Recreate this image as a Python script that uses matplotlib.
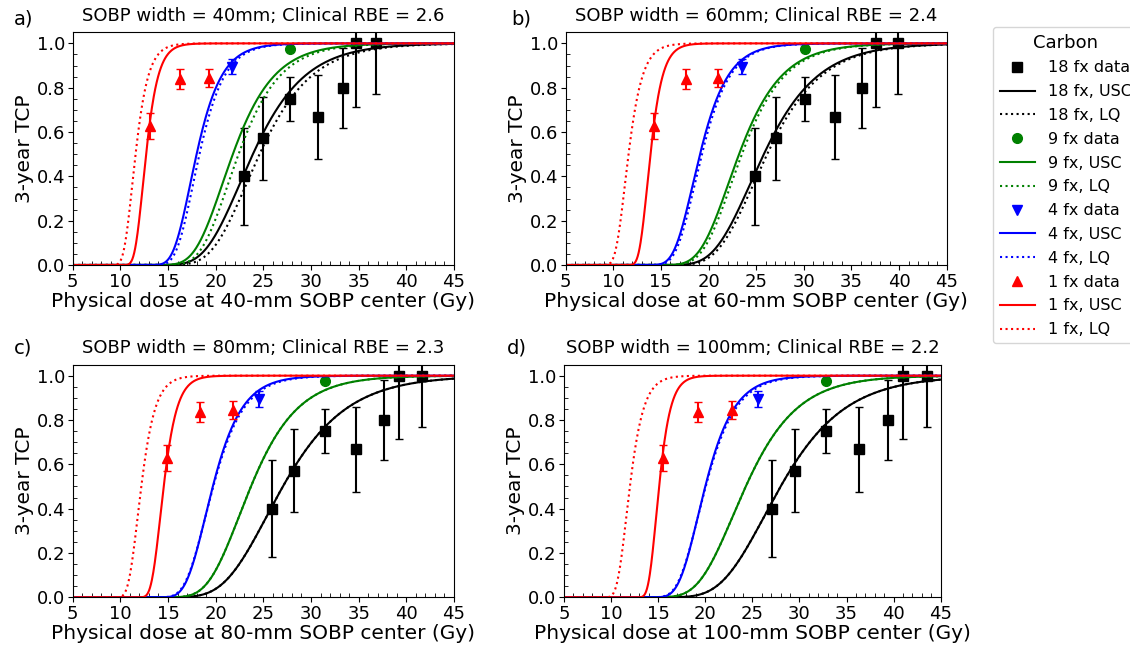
import numpy as np
import matplotlib
matplotlib.use("Agg")
import matplotlib.pyplot as plt
from matplotlib.ticker import MultipleLocator

# panels
widths = [40, 60, 80, 100]
rbe = [2.6, 2.4, 2.3, 2.2]
labels = ["a)", "b)", "c)", "d)"]

# clinical data (dose in Gy(RBE)) -> physical dose = dose / clinical RBE
fx18_dose = [59.6, 65.0, 72.3, 79.8, 86.7, 90.3, 95.8]
fx18_tcp = [0.40, 0.571, 0.75, 0.667, 0.80, 1.0, 1.0]
fx18_err = [0.22, 0.187, 0.10, 0.19, 0.18, 0.285, 0.23]
fx9_dose = [72.3]
fx9_tcp = [0.975]
fx9_err = [0.008]
fx4_dose = [56.4]
fx4_tcp = [0.895]
fx4_err = [0.035]
fx1_dose = [34.2, 42.2, 50.3]
fx1_tcp = [0.628, 0.838, 0.845]
fx1_err = [0.06, 0.045, 0.04]

# model curves: D50 (Gy) and slope k per panel, order 18, 9, 4, 1 fx
usc_d50 = [[23.9, 21.8, 18.0, 12.7],
           [25.8, 23.2, 19.1, 13.9],
           [27.05, 23.7, 19.7, 14.55],
           [28.0, 24.3, 20.0, 15.1]]
usc_k = [[0.27, 0.34, 0.56, 1.15],
         [0.26, 0.33, 0.50, 1.15],
         [0.22, 0.30, 0.48, 1.05],
         [0.215, 0.27, 0.48, 1.20]]
lq_d50 = [[24.6, 22.4, 18.3, 11.6],
          [26.15, 23.5, 19.3, 11.6],
          [27.05, 23.7, 19.75, 12.2],
          [28.0, 24.3, 20.05, 12.0]]
lq_k = [[0.27, 0.34, 0.56, 1.10],
        [0.26, 0.33, 0.50, 1.00],
        [0.22, 0.30, 0.46, 1.00],
        [0.215, 0.27, 0.46, 1.00]]

fx_names = ["18", "9", "4", "1"]
colors = ["black", "green", "blue", "red"]
markers = ["s", "o", "v", "^"]


def tcp(d, d50, k):
    return np.exp(-np.log(2) * np.exp(-k * (d - d50)))


fig = plt.figure(figsize=(11.3, 6.5), dpi=100)
positions = [[0.0643, 0.5923, 0.3375, 0.358],
             [0.5006, 0.5923, 0.3372, 0.358],
             [0.0643, 0.0811, 0.3375, 0.358],
             [0.4991, 0.0811, 0.3334, 0.358]]
lab_pos = [(0.012, 0.962), (0.452, 0.962), (0.012, 0.456), (0.449, 0.456)]

data = [(fx18_dose, fx18_tcp, fx18_err), (fx9_dose, fx9_tcp, fx9_err),
        (fx4_dose, fx4_tcp, fx4_err), (fx1_dose, fx1_tcp, fx1_err)]

dd = np.linspace(5, 45, 800)
handles = []
for p in range(4):
    ax = fig.add_axes(positions[p])
    for i in range(4):
        xd = np.array(data[i][0]) / rbe[p]
        ax.errorbar(xd, data[i][1], yerr=data[i][2], fmt="none",
                    ecolor=colors[i], elinewidth=1.5, capsize=3)
        h1, = ax.plot(xd, data[i][1], markers[i], color=colors[i], ms=7,
                      label=fx_names[i] + " fx data")
        h2, = ax.plot(dd, tcp(dd, usc_d50[p][i], usc_k[p][i]), "-",
                      color=colors[i], lw=1.5, label=fx_names[i] + " fx, USC")
        h3, = ax.plot(dd, tcp(dd, lq_d50[p][i], lq_k[p][i]), ":",
                      color=colors[i], lw=1.5, label=fx_names[i] + " fx, LQ")
        if p == 0:
            handles += [h1, h2, h3]
    ax.set_xlim(5, 45)
    ax.set_ylim(0, 1.05)
    ax.xaxis.set_major_locator(MultipleLocator(5))
    ax.xaxis.set_minor_locator(MultipleLocator(1))
    ax.yaxis.set_major_locator(MultipleLocator(0.2))
    ax.yaxis.set_minor_locator(MultipleLocator(0.05))
    ax.tick_params(which="major", direction="out", labelsize=13, pad=2)
    ax.tick_params(which="minor", direction="in", length=3)
    ax.set_title("SOBP width = %dmm; Clinical RBE = %.1f" % (widths[p], rbe[p]),
                 fontsize=13, pad=8)
    ax.set_xlabel("Physical dose at %d-mm SOBP center (Gy)" % widths[p],
                  fontsize=14.5, labelpad=1)
    ax.set_ylabel("3-year TCP", fontsize=14.5, labelpad=2)
    fig.text(lab_pos[p][0], lab_pos[p][1], labels[p], fontsize=14)

fig.legend(handles=handles, loc="upper left", bbox_to_anchor=(0.879, 0.958),
           borderaxespad=0, fontsize=11.5, title="Carbon", title_fontsize=13,
           handlelength=2.2, labelspacing=0.55)

fig.savefig("out.png", dpi=100)
